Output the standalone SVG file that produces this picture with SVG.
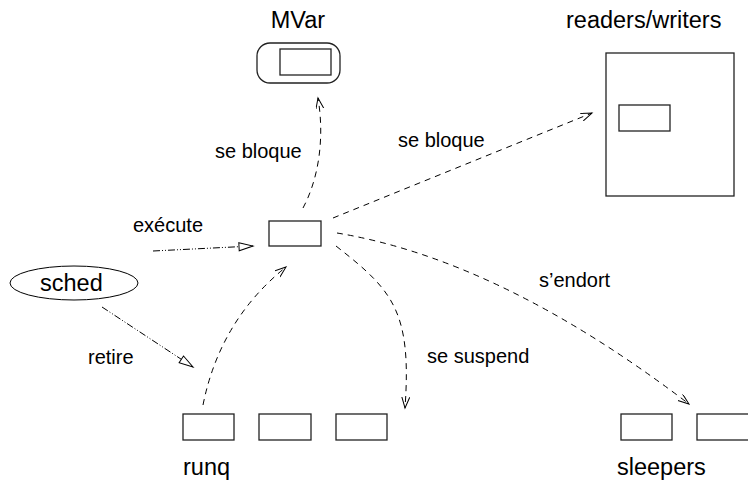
<svg xmlns="http://www.w3.org/2000/svg" width="748" height="492" viewBox="0 0 748 492">
  <style>
    .box { fill: #ffffff; stroke: #222222; stroke-width: 1.3; }
    .lbl { font-family: "Liberation Sans", Arial, Helvetica, sans-serif; font-size: 20px; fill: #000000; }
    .name { font-family: "Liberation Sans", Arial, Helvetica, sans-serif; font-size: 23.5px; fill: #000000; }
    .dash { fill: none; stroke: #000000; stroke-width: 1; stroke-dasharray: 6 5; }
    .dotdash { fill: none; stroke: #000000; stroke-width: 1; stroke-dasharray: 7 2 1 2 1 2; }
  </style>
  <defs>
    <marker id="vhead" markerUnits="userSpaceOnUse" markerWidth="14" markerHeight="10" refX="11" refY="4" orient="auto">
      <path d="M0,0 L11,4 L0,8" fill="none" stroke="#000000" stroke-width="1" stroke-dasharray="none"/>
    </marker>
    <marker id="trihead" markerUnits="userSpaceOnUse" markerWidth="18" markerHeight="12" refX="15" refY="5" orient="auto">
      <path d="M1,1 L15,5 L1,9 Z" fill="#ffffff" stroke="#000000" stroke-width="1" stroke-dasharray="none"/>
    </marker>
  </defs>

  <!-- MVar: rounded container holding one thread -->
  <g id="mvar">
    <rect class="box" x="257" y="43" width="83" height="40" rx="13" ry="13"/>
    <rect class="box" x="280" y="49" width="51" height="26"/>
    <text class="name" x="298" y="28" text-anchor="middle">MVar</text>
  </g>

  <!-- readers/writers lock -->
  <g id="readers-writers">
    <rect class="box" x="606" y="53" width="128" height="143"/>
    <rect class="box" x="619" y="105" width="51" height="26"/>
    <text class="name" x="566" y="28">readers/writers</text>
  </g>

  <!-- running thread -->
  <g id="current">
    <rect class="box" x="269" y="221" width="52" height="25"/>
  </g>

  <!-- scheduler -->
  <g id="sched">
    <ellipse cx="74" cy="283" rx="64" ry="17" fill="#ffffff" stroke="#000000" stroke-width="1"/>
    <text class="name" x="40" y="291">sched</text>
  </g>

  <!-- run queue -->
  <g id="runq">
    <rect class="box" x="183" y="414" width="51" height="26"/>
    <rect class="box" x="259" y="414" width="52" height="26"/>
    <rect class="box" x="336" y="414" width="51" height="26"/>
    <text class="name" x="183" y="475">runq</text>
  </g>

  <!-- sleeping threads -->
  <g id="sleepers">
    <rect class="box" x="621" y="414" width="51" height="26"/>
    <rect class="box" x="697" y="414" width="60" height="26"/>
    <text class="name" x="617" y="475">sleepers</text>
  </g>

  <!-- transitions -->
  <g id="connectors">
    <path class="dash" d="M303,208 C318,180 325,140 318,98" marker-end="url(#vhead)"/>
    <path class="dash" d="M333,218 L592,113" marker-end="url(#vhead)"/>
    <path class="dash" d="M336,246 C392,290 412,310 405,408" marker-end="url(#vhead)"/>
    <path class="dash" d="M337,233 Q500,260 689,404" marker-end="url(#vhead)"/>
    <path class="dash" d="M203,405 Q220,320 286,267" marker-end="url(#vhead)"/>
    <path class="dotdash" d="M153,251 L253,246" marker-end="url(#trihead)"/>
    <path class="dotdash" d="M102,307 L193,367" marker-end="url(#trihead)"/>

    <text class="lbl" x="215" y="158">se bloque</text>
    <text class="lbl" x="398" y="147">se bloque</text>
    <text class="lbl" x="133" y="232">exécute</text>
    <text class="lbl" x="88" y="364">retire</text>
    <text class="lbl" x="427" y="363">se suspend</text>
    <text class="lbl" x="539" y="287">s’endort</text>
  </g>
</svg>
